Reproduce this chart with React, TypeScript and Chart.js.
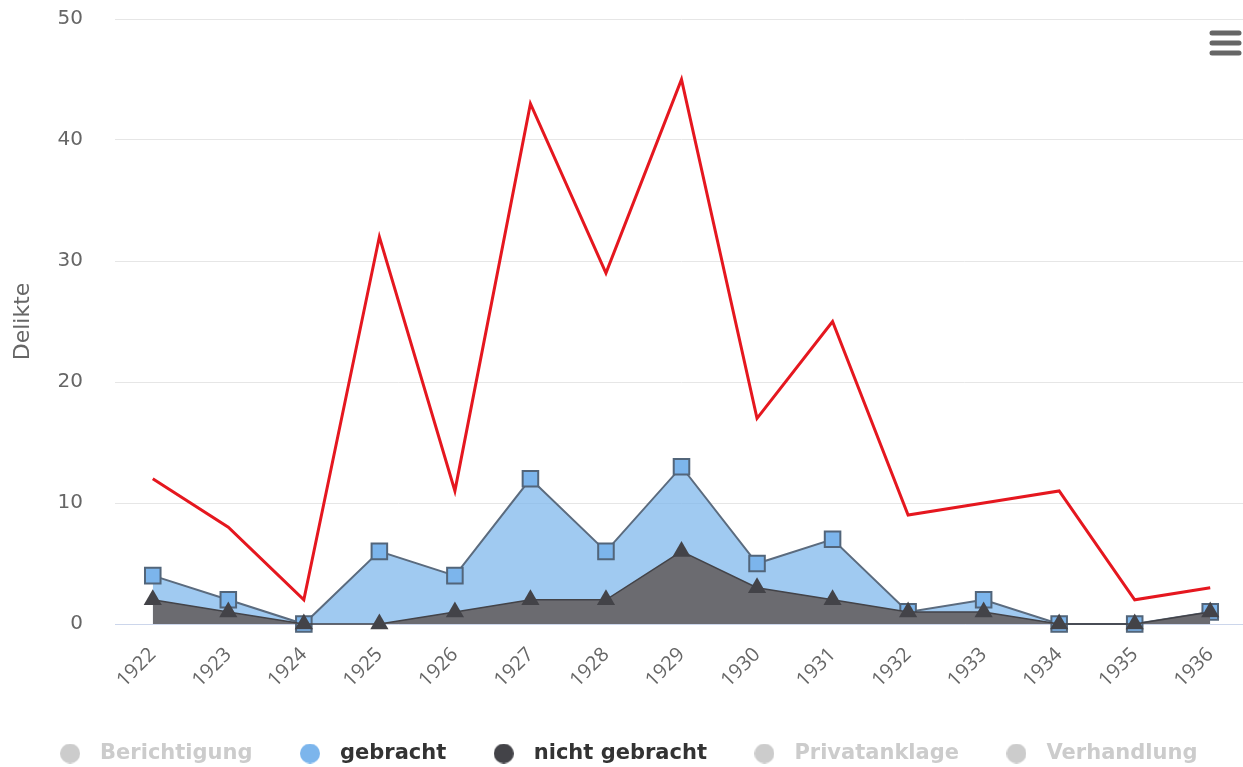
import React, { useEffect, useRef } from "react";
import { Chart, registerables } from "chart.js";

Chart.register(...registerables);

const YEARS = ["1922", "1923", "1924", "1925", "1926", "1927", "1928", "1929", "1930", "1931", "1932", "1933", "1934", "1935", "1936"];
const TOTAL = [12, 8, 2, 32, 11, 43, 29, 45, 17, 25, 9, 10, 11, 2, 3];
const GEBRACHT = [4, 2, 0, 6, 4, 12, 6, 13, 5, 7, 1, 2, 0, 0, 1];
const NICHT_GEBRACHT = [2, 1, 0, 0, 1, 2, 2, 6, 3, 2, 1, 1, 0, 0, 1];
const LEGEND_NAMES = ["Berichtigung", "gebracht", "nicht gebracht", "Privatanklage", "Verhandlung"];
const LEGEND_VISIBLE = [false, true, true, false, false];
const LEGEND_COLORS = ["#cccccc", "#7cb5ec", "#434348", "#cccccc", "#cccccc"];
const Y_MIN = 0;
const Y_MAX = 50;
const Y_STEP = 10;

const FONT = "'Open Sans', 'DejaVu Sans', sans-serif";
const WIDE = "'DejaVu Sans', sans-serif";

function makeDot(color: string) {
  const c = document.createElement("canvas");
  c.width = 20;
  c.height = 20;
  const ctx = c.getContext("2d")!;
  ctx.fillStyle = color;
  ctx.beginPath();
  ctx.arc(10, 10, 10, 0, Math.PI * 2);
  ctx.fill();
  return c;
}

const menuIcon = {
  id: "menuIcon",
  afterDraw(chart: any) {
    const ctx = chart.ctx;
    ctx.save();
    ctx.strokeStyle = "#666666";
    ctx.lineWidth = 5;
    ctx.lineCap = "round";
    [33, 43, 53].forEach((y) => {
      ctx.beginPath();
      ctx.moveTo(1212, y);
      ctx.lineTo(1239, y);
      ctx.stroke();
    });
    ctx.restore();
  },
};

export default function App() {
  const ref = useRef<HTMLCanvasElement | null>(null);

  useEffect(() => {
    if (!ref.current) return;
    Chart.defaults.font.family = FONT;
    const chart = new Chart(ref.current, {
      type: "line",
      data: {
        labels: YEARS,
        datasets: [
          {
            label: "gesamt",
            data: TOTAL,
            borderColor: "#e5171f",
            borderWidth: 3,
            pointRadius: 0,
            fill: false,
            tension: 0,
            order: 0,
            clip: false as any,
          },
          {
            label: "nicht gebracht",
            data: NICHT_GEBRACHT,
            borderColor: "#434348",
            borderWidth: 1.5,
            backgroundColor: "#6b6b70",
            fill: "origin",
            tension: 0,
            pointStyle: "triangle",
            pointRadius: 10.5,
            pointBackgroundColor: "#434348",
            pointBorderColor: "#434348",
            pointBorderWidth: 0,
            order: 1,
            clip: false as any,
          },
          {
            label: "gebracht",
            data: GEBRACHT,
            borderColor: "#5b6b7e",
            borderWidth: 2,
            backgroundColor: "rgba(124,181,236,0.72)",
            fill: "origin",
            tension: 0,
            pointStyle: "rect",
            pointRadius: 11,
            pointBackgroundColor: "#7cb5ec",
            pointBorderColor: "#52657a",
            pointBorderWidth: 2,
            order: 2,
            clip: false as any,
          },
          { label: "Berichtigung", data: [], hidden: true },
          { label: "Privatanklage", data: [], hidden: true },
          { label: "Verhandlung", data: [], hidden: true },
        ] as any,
      },
      options: {
        responsive: false,
        animation: false,
        layout: { autoPadding: false, padding: { top: 19, left: 0, right: 0, bottom: 0 } },
        plugins: {
          tooltip: { enabled: false },
          legend: {
            position: "bottom",
            onClick: () => {},
            labels: {
              usePointStyle: true,
              pointStyleWidth: 39,
              padding: 38,
              font: { size: 21, weight: "bold", family: WIDE },
              generateLabels: () =>
                LEGEND_NAMES.map((name, i) => ({
                  text: name,
                  fillStyle: LEGEND_COLORS[i],
                  strokeStyle: LEGEND_COLORS[i],
                  lineWidth: 0,
                  hidden: false,
                  pointStyle: makeDot(LEGEND_COLORS[i]) as any,
                  fontColor: LEGEND_VISIBLE[i] ? "#333333" : "#cccccc",
                })) as any,
            },
          },
        },
        scales: {
          x: {
            type: "category",
            offset: true,
            grid: { display: false, drawTicks: false },
            border: { display: true, color: "#ccd6eb", width: 1 },
            ticks: {
              autoSkip: false,
              maxRotation: 45,
              minRotation: 45,
              padding: 19,
              color: "#666666",
              font: { size: 20, family: FONT },
            },
            afterFit: (s: any) => {
              s.height = 81;
            },
          },
          y: {
            min: Y_MIN,
            max: Y_MAX,
            ticks: {
              stepSize: Y_STEP,
              padding: 0,
              color: "#666666",
              font: { size: 20, family: WIDE },
            },
            grid: {
              color: "#e6e6e6",
              drawTicks: true,
              tickLength: 32,
              tickColor: "rgba(0,0,0,0)",
              lineWidth: 1,
            },
            border: { display: false },
            title: {
              display: true,
              text: "Delikte",
              color: "#666666",
              font: { size: 22, family: WIDE },
              padding: { top: 10, bottom: 0 },
            },
            afterFit: (s: any) => {
              s.width = 115;
            },
          },
        },
      } as any,
      plugins: [menuIcon],
    });
    return () => chart.destroy();
  }, []);

  return (
    <div
      style={{
        position: "fixed",
        left: 0,
        top: 0,
        width: 1243,
        height: 767,
        overflow: "hidden",
        background: "#ffffff",
      }}
    >
      <canvas ref={ref} width={1248} height={774} style={{ display: "block", width: 1248, height: 774 }} />
    </div>
  );
}
